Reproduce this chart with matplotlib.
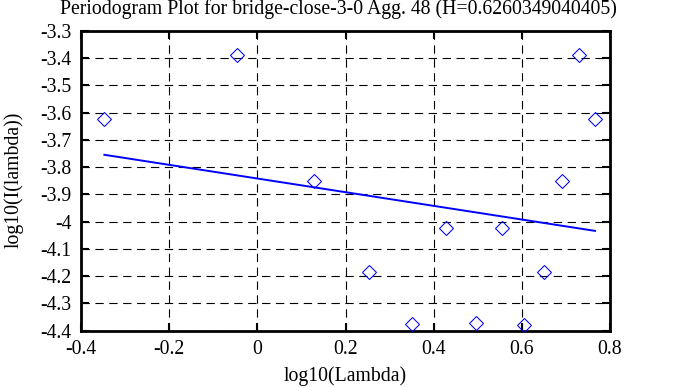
import matplotlib
matplotlib.use("Agg")
import matplotlib.pyplot as plt

# Data
log_lambda = [-0.347, -0.046, 0.1285, 0.2535, 0.350, 0.429, 0.4964, 0.555, 0.605, 0.650, 0.692, 0.730, 0.766]
log_I = [-3.624, -3.389, -3.852, -4.185, -4.377, -4.022, -4.373, -4.022, -4.379, -4.185, -3.852, -3.388, -3.623]
fit_x = [-0.347, 0.766]
fit_y = [-3.755, -4.034]
x_ticks = [-0.4, -0.2, 0, 0.2, 0.4, 0.6, 0.8]
x_tick_labels = ["-0.4", "-0.2", "0", "0.2", "0.4", "0.6", "0.8"]
y_ticks = [-3.3, -3.4, -3.5, -3.6, -3.7, -3.8, -3.9, -4.0, -4.1, -4.2, -4.3, -4.4]
y_tick_labels = ["-3.3", "-3.4", "-3.5", "-3.6", "-3.7", "-3.8", "-3.9", "-4", "-4.1", "-4.2", "-4.3", "-4.4"]
title = "Periodogram Plot for bridge-close-3-0 Agg. 48 (H=0.6260349040405)"

plt.rcParams['font.family'] = ['Liberation Serif', 'DejaVu Serif']
plt.rcParams['lines.scale_dashes'] = False
FS = 14.2

fig = plt.figure(figsize=(6.78, 3.87), dpi=100)
ax = fig.add_axes([81 / 678, 1 - 330.7 / 387, (610 - 81) / 678, 300 / 387])

ax.plot(fit_x, fit_y, color='#0000ff', lw=1.4, zorder=3)
ax.plot(log_lambda, log_I, linestyle='none', marker='D', ms=7.5,
        markerfacecolor='none', markeredgecolor='#0000ff', markeredgewidth=0.75, zorder=4)

ax.set_xlim(-0.4, 0.8)
ax.set_ylim(-4.4, -3.3)
ax.set_xticks(x_ticks)
ax.set_xticklabels(x_tick_labels, fontsize=FS)
ax.set_yticks(y_ticks)
ax.set_yticklabels(y_tick_labels, fontsize=FS)
ax.tick_params(direction='in', length=6, width=1.5, top=True, right=True, pad=7)
ax.grid(True, color='black', lw=0.8, linestyle=(0, (6, 4)))
for s in ax.spines.values():
    s.set_linewidth(2)

fig.text(338 / 678, 1 - 9 / 387, title, ha='center', va='center', fontsize=FS)
fig.text(345 / 678, 1 - 376 / 387, "log10(Lambda)", ha='center', va='center', fontsize=FS)
fig.text(14 / 678, 1 - 180 / 387, "log10(I(lambda))", ha='center', va='center', rotation=90, fontsize=FS)

fig.savefig("out.png", dpi=100)
